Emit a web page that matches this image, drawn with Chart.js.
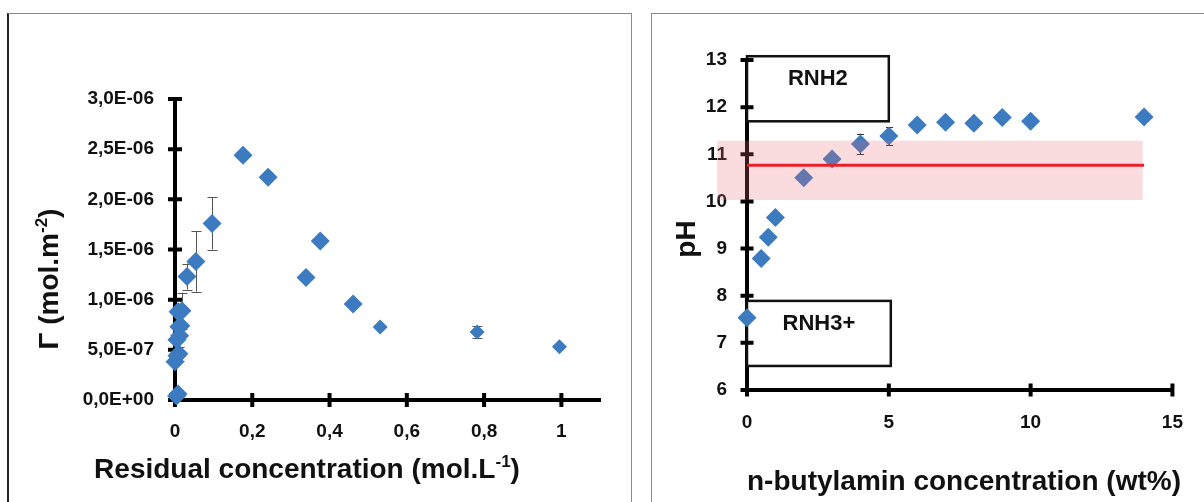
<!DOCTYPE html>
<html><head><meta charset="utf-8">
<script src="https://cdn.jsdelivr.net/npm/chart.js@4.4.1/dist/chart.umd.min.js"></script>
<style>
html,body{margin:0;padding:0;background:#fff;width:1204px;height:502px;overflow:hidden;position:relative}
.frame{position:absolute;box-sizing:border-box}
#f1{left:7px;top:13px;width:625px;height:520px;border-top:1px solid #8a8a8a;border-right:1px solid #8a8a8a;border-left:2px solid #222}
#f2{left:651px;top:13px;width:600px;height:520px;border-top:1px solid #8a8a8a;border-left:1px solid #8a8a8a}
canvas{position:absolute;top:0}
#c1{left:0}
#c2{left:640px}
</style></head><body>
<div class="frame" id="f1"></div><div class="frame" id="f2"></div>
<canvas id="c1" width="640" height="502"></canvas>
<canvas id="c2" width="564" height="502"></canvas>
<script>
// ---------- LEFT CHART DATA ----------
const leftX   = [0.176, 0.241, 0.339, 0.376, 0.461, 0.096, 0.054, 0.031, 0.018, 0.008, 0.015, 0.010, 0.012, 0.005, 0.010, 0.005, 0.000, 0.004, 0.008];
const leftY   = [2.44e-6, 2.22e-6, 1.22e-6, 1.585e-6, 0.957e-6, 1.76e-6, 1.38e-6, 1.23e-6, 0.89e-6, 0.88e-6, 0.74e-6, 0.73e-6, 0.64e-6, 0.60e-6, 0.46e-6, 0.44e-6, 0.38e-6, 0.04e-6, 0.06e-6];
const leftErr = [0, 0, 0, 0, 0, 0.26e-6, 0.30e-6, 0.13e-6, 0.18e-6, 0, 0, 0, 0, 0, 0.07e-6, 0, 0, 0, 0];
const leftSmallX   = [0.531, 0.782, 0.995];
const leftSmallY   = [0.728e-6, 0.678e-6, 0.53e-6];
const leftSmallErr = [0, 0.06e-6, 0];
const leftXTickLabels = ['0', '0,2', '0,4', '0,6', '0,8', '1'];
const leftYTickLabels = ['0,0E+00', '5,0E-07', '1,0E-06', '1,5E-06', '2,0E-06', '2,5E-06', '3,0E-06'];

// ---------- RIGHT CHART DATA ----------
const rightX   = [0, 0.5, 0.75, 1, 2, 3, 4, 5, 6, 7, 8, 9, 10, 14];
const rightY   = [7.53, 8.79, 9.24, 9.66, 10.50, 10.90, 11.22, 11.39, 11.62, 11.68, 11.66, 11.78, 11.70, 11.79];
const rightErr = [0, 0, 0, 0, 0, 0, 0.22, 0.19, 0, 0, 0, 0, 0, 0];
const pKaLineX = [0, 14];
const pKaLineY = [10.77, 10.77];
const pKaBandX = [-1.05, 13.95];
const pKaBandY = [10.03, 11.29];
const boxLabels = ['RNH2', 'RNH3+'];
const boxX = [[0, 5.0], [0, 5.07]];
const boxY = [[11.7, 13.08], [6.51, 7.89]];
const rightXTickLabels = ['0', '5', '10', '15'];
const rightYTickLabels = ['6', '7', '8', '9', '10', '11', '12', '13'];

const BLUE = '#3c7bbf';
const FONT = '"Liberation Sans", Arial, sans-serif';
Chart.defaults.font.family = FONT;

// ---------- plugins ----------
const errorBars = {
  id: 'errorBars',
  beforeDatasetsDraw(chart, args, opts) {
    const ctx = chart.ctx, ys = chart.scales.y;
    chart.data.datasets.forEach((ds, i) => {
      if (!ds.errors) return;
      const meta = chart.getDatasetMeta(i);
      meta.data.forEach((pt, j) => {
        const e = ds.errors[j]; if (!e) return;
        const v = ds.data[j].y;
        const y1 = ys.getPixelForValue(v + e), y2 = ys.getPixelForValue(v - e);
        const x = Math.round(pt.x) + 0.5;
        ctx.save(); ctx.strokeStyle = opts.color; ctx.lineWidth = 1;
        ctx.beginPath();
        ctx.moveTo(x, y1); ctx.lineTo(x, y2);
        ctx.moveTo(x - opts.cap, Math.round(y1) + 0.5); ctx.lineTo(x + opts.cap, Math.round(y1) + 0.5);
        ctx.moveTo(x - opts.cap, Math.round(y2) + 0.5); ctx.lineTo(x + opts.cap, Math.round(y2) + 0.5);
        ctx.stroke(); ctx.restore();
      });
    });
  }
};

const boxes = {
  id: 'boxes',
  beforeDatasetsDraw(chart, args, opts) {
    if (!opts.labels) return;
    const ctx = chart.ctx, xs = chart.scales.x, ys = chart.scales.y;
    opts.labels.forEach((lab, i) => {
      const x1 = xs.getPixelForValue(opts.x[i][0]), x2 = xs.getPixelForValue(opts.x[i][1]);
      const y1 = ys.getPixelForValue(opts.y[i][1]), y2 = ys.getPixelForValue(opts.y[i][0]);
      ctx.save();
      ctx.fillStyle = '#fff'; ctx.fillRect(x1, y1, x2 - x1, y2 - y1);
      ctx.strokeStyle = '#111'; ctx.lineWidth = 2.5; ctx.strokeRect(x1, y1, x2 - x1, y2 - y1);
      ctx.fillStyle = '#111'; ctx.font = 'bold 22px ' + FONT;
      ctx.textAlign = 'center'; ctx.textBaseline = 'middle';
      ctx.fillText(lab, (x1 + x2) / 2, y1 + 23);
      ctx.restore();
    });
  }
};

const crossTicks = {
  id: 'crossTicks',
  beforeDatasetsDraw(chart, args, opts) {
    const ctx = chart.ctx, xs = chart.scales.x, ys = chart.scales.y, ca = chart.chartArea;
    ctx.save(); ctx.strokeStyle = '#000'; ctx.lineWidth = opts.width;
    ctx.beginPath();
    xs.ticks.forEach(t => { const p = xs.getPixelForValue(t.value); ctx.moveTo(p, ca.bottom - opts.len); ctx.lineTo(p, ca.bottom + opts.len); });
    ys.ticks.forEach(t => { const p = ys.getPixelForValue(t.value); ctx.moveTo(ca.left - opts.len, p); ctx.lineTo(ca.left + opts.len, p); });
    ctx.stroke(); ctx.restore();
  }
};

const band = {
  id: 'band',
  afterDatasetDraw(chart, args, opts) {
    if (!opts.x || args.index !== 0) return;
    const ctx = chart.ctx, xs = chart.scales.x, ys = chart.scales.y;
    const x1 = xs.getPixelForValue(opts.x[0]), x2 = xs.getPixelForValue(opts.x[1]);
    const y1 = ys.getPixelForValue(opts.y[1]), y2 = ys.getPixelForValue(opts.y[0]);
    ctx.save(); ctx.fillStyle = 'rgba(236,110,122,0.24)'; ctx.fillRect(x1, y1, x2 - x1, y2 - y1); ctx.restore();
  }
};

function drawRich(ctx, parts, cx, cy, rot, size) {
  ctx.save();
  ctx.translate(cx, cy); ctx.rotate(rot);
  const main = 'bold ' + size + 'px ' + FONT, sup = 'bold ' + Math.round(size * 0.62) + 'px ' + FONT;
  let total = 0;
  parts.forEach(p => { ctx.font = p.sup ? sup : main; p.w = ctx.measureText(p.t).width; total += p.w; });
  let x = -total / 2;
  const base = size * 0.36;
  ctx.fillStyle = '#111'; ctx.textBaseline = 'alphabetic'; ctx.textAlign = 'left';
  parts.forEach(p => { ctx.font = p.sup ? sup : main; ctx.fillText(p.t, x, p.sup ? base - size * 0.4 : base); x += p.w; });
  ctx.restore();
}

const titles = {
  id: 'titles',
  afterDraw(chart, args, opts) {
    (opts.items || []).forEach(it => drawRich(chart.ctx, it.parts, it.x, it.y, it.rot, it.size));
  }
};

function axisOpts(min, max, step, labels, pad, fit) {
  return {
    type: 'linear', min, max,
    ticks: { stepSize: step, includeBounds: false, autoSkip: false, maxRotation: 0,
      callback: (v, i) => labels[i], font: { size: 19, weight: 'bold' }, color: '#111', padding: pad },
    grid: { display: false, drawTicks: false },
    border: { display: true, width: 4, color: '#000' },
    afterFit: fit
  };
}

// ---------- LEFT CHART ----------
new Chart(document.getElementById('c1'), {
  type: 'scatter',
  data: { datasets: [
    { data: leftX.map((x, i) => ({ x, y: leftY[i] })), errors: leftErr, pointStyle: 'rectRot', pointRadius: 9.5,
      backgroundColor: BLUE, borderColor: BLUE, pointBorderWidth: 0, clip: false },
    { data: leftSmallX.map((x, i) => ({ x, y: leftSmallY[i] })), errors: leftSmallErr, pointStyle: 'rectRot', pointRadius: 7.5,
      backgroundColor: BLUE, borderColor: BLUE, pointBorderWidth: 0, clip: false }
  ] },
  options: {
    responsive: false, animation: false, events: [],
    layout: { padding: { left: 0, right: 40, top: 99, bottom: 0 } },
    plugins: {
      legend: { display: false }, tooltip: { enabled: false },
      errorBars: { color: '#555', cap: 5 },
      crossTicks: { len: 7, width: 4 },
      titles: { items: [
        { parts: [{ t: 'Γ (mol.m' }, { t: '-2', sup: true }, { t: ')' }], x: 48, y: 279, rot: -Math.PI / 2, size: 28 },
        { parts: [{ t: 'Residual concentration (mol.L' }, { t: '-1', sup: true }, { t: ')' }], x: 307, y: 468, rot: 0, size: 28 }
      ] }
    },
    scales: {
      x: axisOpts(0, 1.1, 0.2, leftXTickLabels, 20, s => { s.height = 102; }),
      y: axisOpts(0, 3e-6, 5e-7, leftYTickLabels, 21, s => { s.width = 175; })
    }
  },
  plugins: [errorBars, crossTicks, titles]
});

// ---------- RIGHT CHART ----------
new Chart(document.getElementById('c2'), {
  type: 'scatter',
  data: { datasets: [
    { data: rightX.map((x, i) => ({ x, y: rightY[i] })), errors: rightErr, pointStyle: 'rectRot', pointRadius: 9.5,
      backgroundColor: BLUE, borderColor: BLUE, pointBorderWidth: 0, clip: false, order: 2 },
    { data: pKaLineX.map((x, i) => ({ x, y: pKaLineY[i] })), showLine: true, pointRadius: 0,
      borderColor: '#e8202a', borderWidth: 3, clip: false, order: 1 }
  ] },
  options: {
    responsive: false, animation: false, events: [],
    layout: { padding: { left: 0, right: 31, top: 60, bottom: 0 } },
    plugins: {
      legend: { display: false }, tooltip: { enabled: false },
      errorBars: { color: '#333', cap: 3.5 },
      crossTicks: { len: 6.5, width: 4 },
      boxes: { labels: boxLabels, x: boxX, y: boxY },
      band: { x: pKaBandX, y: pKaBandY },
      titles: { items: [
        { parts: [{ t: 'pH' }], x: 45, y: 239, rot: -Math.PI / 2, size: 28 },
        { parts: [{ t: 'n-butylamin concentration (wt%)' }], x: 324, y: 480, rot: 0, size: 28 }
      ] }
    },
    scales: {
      x: axisOpts(0, 15, 5, rightXTickLabels, 21, s => { s.height = 112; }),
      y: axisOpts(6, 13, 1, rightYTickLabels, 20, s => { s.width = 107; })
    }
  },
  plugins: [boxes, errorBars, crossTicks, band, titles]
});
</script>
</body></html>
